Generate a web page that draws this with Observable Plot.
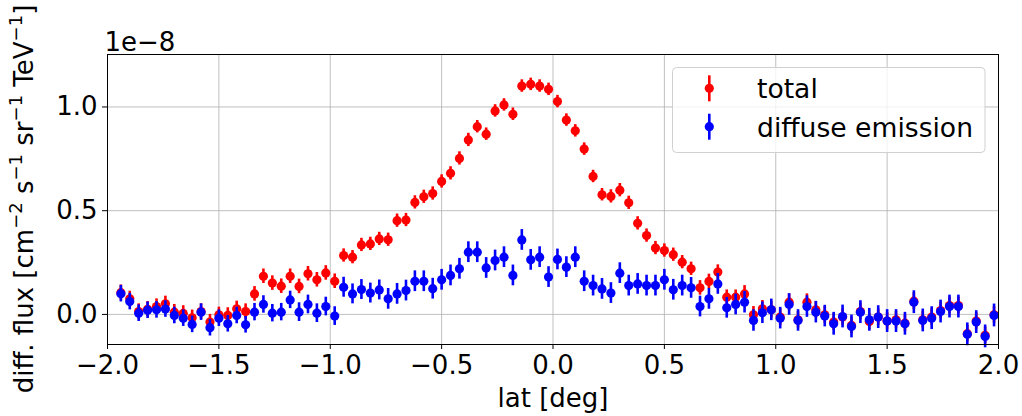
<!DOCTYPE html>
<html><head><meta charset="utf-8">
<script src="https://cdn.jsdelivr.net/npm/d3@7"></script>
<script src="https://cdn.jsdelivr.net/npm/@observablehq/plot@0.6"></script>
<style>body{margin:0;background:#fff} svg{display:block}</style>
</head><body><div id="chart"></div>
<script>
// latitude bin centres [deg]
const lat = [
 -1.94,-1.90,-1.86,-1.82,-1.78,-1.74,-1.70,-1.66,-1.62,-1.58,
 -1.54,-1.50,-1.46,-1.42,-1.38,-1.34,-1.30,-1.26,-1.22,-1.18,
 -1.14,-1.10,-1.06,-1.02,-0.98,-0.94,-0.90,-0.86,-0.82,-0.78,
 -0.74,-0.70,-0.66,-0.62,-0.58,-0.54,-0.50,-0.46,-0.42,-0.38,
 -0.34,-0.30,-0.26,-0.22,-0.18,-0.14,-0.10,-0.06,-0.02, 0.02,
  0.06, 0.10, 0.14, 0.18, 0.22, 0.26, 0.30, 0.34, 0.38, 0.42,
  0.46, 0.50, 0.54, 0.58, 0.62, 0.66, 0.70, 0.74, 0.78, 0.82,
  0.86, 0.90, 0.94, 0.98, 1.02, 1.06, 1.10, 1.14, 1.18, 1.22,
  1.26, 1.30, 1.34, 1.38, 1.42, 1.46, 1.50, 1.54, 1.58, 1.62,
  1.66, 1.70, 1.74, 1.78, 1.82, 1.86, 1.90, 1.94, 1.98];
// differential flux, units of 1e-8
const total = [
 0.105, 0.075, 0.014, 0.025, 0.038, 0.051, 0.011, 0.005,-0.016, 0.014,
-0.037,-0.002,-0.005, 0.027, 0.014, 0.099, 0.184, 0.151, 0.136, 0.184,
 0.135, 0.196, 0.167, 0.200, 0.160, 0.284, 0.276, 0.335, 0.340, 0.364,
 0.360, 0.452, 0.455, 0.540, 0.567, 0.583, 0.641, 0.680, 0.752, 0.841,
 0.905, 0.869, 0.981, 1.010, 0.965, 1.101, 1.109, 1.101, 1.085, 1.026,
 0.937, 0.885, 0.797, 0.665, 0.577, 0.569, 0.599, 0.538, 0.439, 0.380,
 0.320, 0.308, 0.288, 0.252, 0.220, 0.128, 0.159, 0.204, 0.083, 0.083,
 0.099,-0.002, 0.027, 0.022,-0.013, 0.059,-0.026, 0.059, 0.022,-0.002,
-0.037,-0.013,-0.053, 0.014,-0.034,-0.013,-0.032,-0.026,-0.042, 0.064,
-0.026,-0.013, 0.019, 0.043, 0.043,-0.093,-0.032,-0.101,-0.002];
const diffuse = [
 0.100, 0.062, 0.006, 0.020, 0.022, 0.026,-0.005,-0.018,-0.048, 0.011,
-0.064,-0.018,-0.045,-0.005,-0.050, 0.011, 0.048, 0.006, 0.011, 0.070,
 0.011, 0.048, 0.006, 0.038,-0.008, 0.131, 0.099, 0.120, 0.103, 0.118,
 0.075, 0.099, 0.115, 0.160, 0.160, 0.124, 0.167, 0.188, 0.220, 0.300,
 0.300, 0.224, 0.260, 0.276, 0.188, 0.359, 0.263, 0.276, 0.180, 0.265,
 0.228, 0.276, 0.160, 0.139, 0.123, 0.103, 0.199, 0.139, 0.147, 0.139,
 0.139, 0.167, 0.119, 0.139, 0.128, 0.038, 0.075, 0.147, 0.032, 0.048,
 0.059,-0.029, 0.008, 0.022,-0.018, 0.048,-0.029, 0.038, 0.011,-0.008,
-0.045,-0.010,-0.058, 0.011,-0.026,-0.013,-0.032,-0.032,-0.045, 0.059,
-0.029,-0.018, 0.014, 0.038, 0.038,-0.096,-0.037,-0.106,-0.005];
// one-sigma errors, units of 1e-8
const totalErr = [
 0.037,0.037,0.037,0.037,0.037,0.037,0.037,0.037,0.037,0.037,
 0.037,0.037,0.037,0.037,0.037,0.035,0.035,0.035,0.035,0.035,
 0.035,0.035,0.035,0.035,0.035,0.032,0.032,0.032,0.032,0.032,
 0.032,0.032,0.032,0.032,0.032,0.032,0.032,0.032,0.032,0.032,
 0.030,0.030,0.030,0.030,0.030,0.030,0.030,0.030,0.030,0.030,
 0.030,0.030,0.030,0.030,0.030,0.032,0.032,0.032,0.032,0.032,
 0.032,0.032,0.032,0.032,0.032,0.035,0.035,0.035,0.035,0.035,
 0.040,0.040,0.040,0.040,0.040,0.040,0.040,0.040,0.040,0.040,
 0.040,0.040,0.040,0.040,0.040,0.040,0.040,0.040,0.040,0.040,
 0.040,0.040,0.040,0.040,0.040,0.040,0.040,0.040,0.040];
const diffuseErr = [
 0.040,0.040,0.040,0.040,0.040,0.040,0.040,0.040,0.040,0.040,
 0.040,0.040,0.040,0.040,0.040,0.042,0.042,0.042,0.042,0.042,
 0.045,0.045,0.045,0.045,0.045,0.048,0.048,0.048,0.048,0.048,
 0.050,0.050,0.050,0.050,0.050,0.050,0.050,0.050,0.050,0.050,
 0.050,0.050,0.050,0.050,0.050,0.050,0.050,0.050,0.050,0.050,
 0.050,0.050,0.050,0.050,0.050,0.050,0.050,0.050,0.050,0.050,
 0.050,0.050,0.050,0.050,0.050,0.050,0.050,0.050,0.050,0.050,
 0.052,0.052,0.052,0.052,0.052,0.052,0.052,0.052,0.052,0.052,
 0.055,0.055,0.055,0.055,0.055,0.055,0.055,0.055,0.055,0.055,
 0.055,0.055,0.055,0.055,0.055,0.055,0.055,0.055,0.055];

const seriesNames = ["total", "diffuse emission"];
const seriesColors = ["#ff0000", "#0000ff"];
const xTicks = [-2, -1.5, -1, -0.5, 0, 0.5, 1, 1.5, 2];
const yTicks = [0, 0.5, 1];
const xLabel = "lat [deg]";
const yLabelParts = [["diff. flux [cm", "−2"], [" s", "−1"], [" sr", "−1"], [" TeV", "−1"], ["]", null]];
const offsetText = "1e−8";

const seriesData = [total, diffuse].map((vals, k) => lat.map((x, i) => ({
  series: seriesNames[k], x, y: vals[i], e: [totalErr, diffuseErr][k][i]
})));

const fmt = d3.format(".1f");

const chart = Plot.plot({
  width: 1022, height: 416,
  marginLeft: 107, marginRight: 24, marginTop: 54, marginBottom: 72,
  style: {fontFamily: "DejaVu Sans", fontSize: "26px", background: "#fff", color: "#000"},
  x: {domain: [-2, 2]},
  y: {domain: [-0.145, 1.253]},
  color: {domain: seriesNames, range: seriesColors},
  marks: [
    Plot.gridX(xTicks, {stroke: "#b0b0b0", strokeOpacity: 0.8, strokeWidth: 1}),
    Plot.gridY(yTicks, {stroke: "#b0b0b0", strokeOpacity: 0.8, strokeWidth: 1}),
    ...seriesData.flatMap(rows => [
      Plot.ruleX(rows, {x: "x", y1: d => d.y - d.e, y2: d => d.y + d.e, stroke: "series", strokeWidth: 2.6}),
      Plot.dot(rows, {x: "x", y: "y", fill: "series", r: 4.6, stroke: "none"})
    ]),
    Plot.frame({stroke: "#000", strokeWidth: 1}),
    Plot.axisX(xTicks, {tickFormat: fmt, tickSize: 5, tickPadding: 6, fontSize: 26, label: null, stroke: "#000"}),
    Plot.axisY(yTicks, {tickFormat: fmt, tickSize: 5, tickPadding: 5, fontSize: 26, label: null, stroke: "#000"}),
    Plot.text([xLabel], {frameAnchor: "bottom", dy: 62, fontSize: 26, text: d => d}),
    Plot.text([offsetText], {frameAnchor: "top-left", textAnchor: "start", dx: -3, dy: -22, fontSize: 26, text: d => d})
  ]
});

document.getElementById("chart").appendChild(chart);

// y-axis label with superscripts
const svg = d3.select(chart);
const yl = svg.append("text")
  .attr("transform", "translate(33,199) rotate(-90)")
  .attr("text-anchor", "middle")
  .attr("font-family", "DejaVu Sans")
  .attr("font-size", 26)
  .attr("fill", "#000");
let shift = 0;
for (const [base, sup] of yLabelParts) {
  yl.append("tspan").attr("dy", shift).text(base);
  shift = 0;
  if (sup) {
    yl.append("tspan").attr("font-size", 18).attr("dy", -11).text(sup);
    shift = 11;
  }
}

// legend
const lg = svg.append("g").attr("text-anchor", "start");
lg.append("rect").attr("x", 672.5).attr("y", 67.5).attr("width", 312.5).attr("height", 85)
  .attr("rx", 4).attr("fill", "#fff").attr("fill-opacity", 0.8).attr("stroke", "#d0d0d0");
const rowY = [88.3, 126.7];
seriesNames.forEach((name, k) => {
  const cy = rowY[k];
  lg.append("line").attr("x1", 709.3).attr("x2", 709.3).attr("y1", cy - 13).attr("y2", cy + 13)
    .attr("stroke", seriesColors[k]).attr("stroke-width", 2.6);
  lg.append("circle").attr("cx", 709.3).attr("cy", cy).attr("r", 4.6).attr("fill", seriesColors[k]);
  lg.append("text").attr("x", 757).attr("y", cy + 10).attr("text-anchor", "start")
    .attr("font-family", "DejaVu Sans")
    .attr("font-size", 26.6).attr("fill", "#000").text(name);
});
</script>
</body></html>
